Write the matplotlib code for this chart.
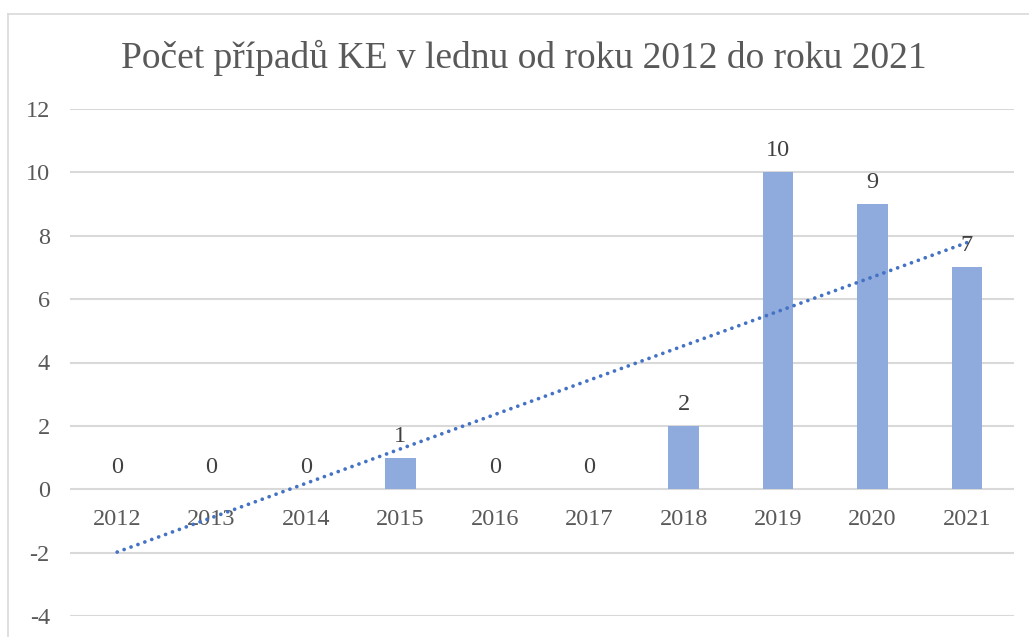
import numpy as np
import matplotlib
matplotlib.use("Agg")
import matplotlib.pyplot as plt
from matplotlib.lines import Line2D

# Data: cases in January per year
years = ["2012", "2013", "2014", "2015", "2016", "2017", "2018", "2019", "2020", "2021"]
cases = [0, 0, 0, 1, 0, 0, 2, 10, 9, 7]
y_ticks = [-4, -2, 0, 2, 4, 6, 8, 10, 12]
title = "Počet případů KE v lednu od roku 2012 do roku 2021"

FONT = "Liberation Serif"
BAR_COLOR = "#8FAADC"
TREND_COLOR = "#4472C4"
GRID_COLOR = "#D9D9D9"
TEXT_COLOR = "#595959"
LABEL_COLOR = "#404040"

W, H, DPI = 1029, 637, 100
fig = plt.figure(figsize=(W / DPI, H / DPI), dpi=DPI)
fig.patch.set_facecolor("white")

# plot area in pixel coordinates
left_px, right_px, top_px, bottom_px = 70, 1014, 109, 616
ax = fig.add_axes([left_px / W, 1 - bottom_px / H,
                   (right_px - left_px) / W, (bottom_px - top_px) / H])

x = np.arange(len(years))
ax.bar(x, cases, width=0.32, color=BAR_COLOR, zorder=3)

# linear trend line
slope, intercept = np.polyfit(x, cases, 1)
trend = slope * x + intercept
ax.plot(x, trend, color=TREND_COLOR, linewidth=2.7, linestyle=(0, (0.01, 1.95)),
        dash_capstyle="round", zorder=4)

# value labels
for xi, v in zip(x, cases):
    ax.annotate(str(v), xy=(xi, v), xytext=(0, 11.5), textcoords="offset points",
                ha="center", va="baseline", fontsize=17.5, family=FONT,
                color=LABEL_COLOR, zorder=5)

ax.set_xlim(-0.5, len(years) - 0.5)
ax.set_ylim(-4, 12)
ax.set_yticks(y_ticks)
ax.set_yticklabels([str(t) for t in y_ticks])
ax.set_xticks(x)
ax.set_xticklabels(years)

ax.grid(axis="y", color=GRID_COLOR, linewidth=1.5, zorder=0)
ax.set_axisbelow(True)
for side in ["top", "right", "left"]:
    ax.spines[side].set_visible(False)
ax.spines["bottom"].set_position(("data", 0))
ax.spines["bottom"].set_visible(False)

ax.tick_params(axis="x", length=0, pad=14, labelsize=17.5, labelcolor=TEXT_COLOR)
ax.tick_params(axis="y", length=0, pad=14.5, labelsize=17.5, labelcolor=TEXT_COLOR)
for lab in ax.get_xticklabels() + ax.get_yticklabels():
    lab.set_family(FONT)

# chart title
fig.text(524 / W, 1 - 68 / H, title, ha="center", va="baseline",
         fontsize=27, family=FONT, color=TEXT_COLOR)

# chart area border (top and left edges visible)
fig.add_artist(Line2D([8 / W, 1.0], [1 - 14 / H, 1 - 14 / H], transform=fig.transFigure,
                      color=GRID_COLOR, linewidth=1.2))
fig.add_artist(Line2D([8 / W, 8 / W], [0, 1 - 14 / H], transform=fig.transFigure,
                      color=GRID_COLOR, linewidth=1.2))

fig.savefig("out.png", dpi=DPI, facecolor="white")
